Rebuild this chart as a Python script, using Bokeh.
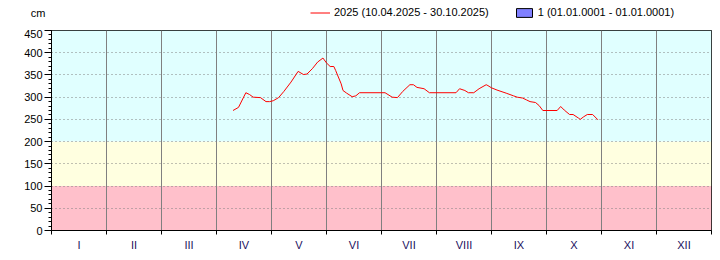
import datetime
import calendar
from bokeh.plotting import figure
from bokeh.layouts import column
from bokeh.models import (Range1d, FixedTicker, BoxAnnotation, Legend, LegendItem)
from bokeh.embed import file_html
from bokeh.resources import INLINE

# ---------------- data ----------------
dates = ["2025-04-10", "2025-04-13", "2025-04-17", "2025-04-19", "2025-04-21", "2025-04-25",
         "2025-04-28", "2025-04-30", "2025-05-02", "2025-05-05", "2025-05-08", "2025-05-12",
         "2025-05-16", "2025-05-19", "2025-05-21", "2025-05-24", "2025-05-27", "2025-05-30",
         "2025-06-01", "2025-06-03", "2025-06-05", "2025-06-06", "2025-06-09", "2025-06-10",
         "2025-06-12", "2025-06-15", "2025-06-17", "2025-06-19", "2025-07-03", "2025-07-07",
         "2025-07-10", "2025-07-13", "2025-07-17", "2025-07-19", "2025-07-21", "2025-07-25",
         "2025-07-28", "2025-08-12", "2025-08-14", "2025-08-17", "2025-08-19", "2025-08-22",
         "2025-08-25", "2025-08-29", "2025-08-30", "2025-09-01", "2025-09-04", "2025-09-09",
         "2025-09-13", "2025-09-15", "2025-09-18", "2025-09-20", "2025-09-22", "2025-09-25",
         "2025-09-27", "2025-09-29", "2025-10-07", "2025-10-09", "2025-10-11", "2025-10-14",
         "2025-10-16", "2025-10-19", "2025-10-20", "2025-10-22", "2025-10-24", "2025-10-27",
         "2025-10-30"]
levels = [270, 277, 310, 306, 300, 299,
          290, 290, 292, 299, 313, 334,
          358, 351, 352, 364, 379, 388,
          377, 369, 369, 360, 330, 315,
          309, 301, 303, 310, 310, 300,
          299, 313, 328, 328, 322, 319,
          310, 310, 319, 315, 310, 310,
          319, 328, 326, 321, 316, 309,
          303, 300, 298, 294, 290, 288,
          281, 270, 270, 279, 271, 261,
          261, 253, 250, 256, 261, 261,
          249]

month_labels = ["I", "II", "III", "IV", "V", "VI", "VII", "VIII", "IX", "X", "XI", "XII"]
y_ticks = list(range(0, 451, 50))
y_minor_ticks = list(range(0, 451, 10))
grid_levels = list(range(50, 401, 50))
band_bottoms = [0, 100, 200]
band_tops = [100, 200, 450]
band_colors = ["#FFC0CB", "#FFFFE0", "#E0FFFF"]
series_label = "2025 (10.04.2025 - 30.10.2025)"
ref_label = "1 (01.01.0001 - 01.01.0001)"
unit_label = "cm"


def month_pos(s):
    d = datetime.date.fromisoformat(s)
    nd = calendar.monthrange(d.year, d.month)[1]
    return d.month - 1 + (d.day - 1) / nd


xs = [month_pos(s) for s in dates]

FONT = "Liberation Sans"

# ---------------- header (legend + unit) ----------------
top = figure(width=720, height=29, output_backend="svg", toolbar_location=None,
             x_range=Range1d(0, 660), y_range=Range1d(0, 25),
             x_axis_type=None,
             min_border_left=51, min_border_right=9, min_border_top=0, min_border_bottom=4)
top.outline_line_color = None
top.grid.visible = False
top.background_fill_color = "white"
top.border_fill_color = "white"
# unit label drawn as the header's (tickless) y-axis title
top.yaxis.ticker = FixedTicker(ticks=[])
top.yaxis.axis_line_color = None
top.yaxis.major_tick_line_color = None
top.yaxis.minor_tick_line_color = None
top.yaxis.major_label_text_font_size = "0px"
top.yaxis.axis_label = unit_label
top.yaxis.axis_label_orientation = "horizontal"
top.yaxis.axis_label_text_font = FONT
top.yaxis.axis_label_text_font_size = "11px"
top.yaxis.axis_label_text_font_style = "normal"
top.yaxis.axis_label_text_color = "black"
top.yaxis.axis_label_standoff = 6

# legend sample renderers (one point each, kept out of view)
r1 = top.line([-100, -90], [-100, -100], line_color="red", line_width=1)
r2 = top.quad(left=[-100], right=[-90], top=[-100], bottom=[-110],
              fill_color="#8080FF", line_color="black")

legend = Legend(items=[LegendItem(label=series_label, renderers=[r1]),
                       LegendItem(label=ref_label, renderers=[r2])],
                location=(259, 7), orientation="horizontal",
                padding=0, margin=0, spacing=25,
                glyph_width=20, glyph_height=11, label_height=11,
                label_standoff=4, label_text_font=FONT, label_text_font_size="11px",
                label_text_color="black",
                background_fill_alpha=0, border_line_alpha=0)
top.add_layout(legend, "center")

# ---------------- main chart ----------------
p = figure(width=720, height=231, output_backend="svg", toolbar_location=None,
           x_range=Range1d(0, 12), y_range=Range1d(0, 450),
           min_border_left=51, min_border_right=9, min_border_top=1, min_border_bottom=30)
p.background_fill_color = "white"
p.border_fill_color = "white"
p.outline_line_color = "black"
p.outline_line_width = 1

for b, t, c in zip(band_bottoms, band_tops, band_colors):
    p.add_layout(BoxAnnotation(bottom=b, top=t, fill_color=c, fill_alpha=1.0,
                               line_alpha=0, level="image"))

p.xgrid.ticker = FixedTicker(ticks=list(range(1, 12)))
p.xgrid.grid_line_color = "#808080"
p.xgrid.grid_line_width = 1
p.ygrid.ticker = FixedTicker(ticks=grid_levels)
p.ygrid.grid_line_color = "#808080"
p.ygrid.grid_line_dash = "1 3"
p.ygrid.grid_line_width = 1

p.yaxis.ticker = FixedTicker(ticks=y_ticks, minor_ticks=y_minor_ticks)
p.yaxis.major_tick_out = 7
p.yaxis.major_tick_in = 0
p.yaxis.minor_tick_out = 3
p.yaxis.minor_tick_in = 0
p.yaxis.major_label_standoff = 2
p.yaxis.axis_line_color = "black"
p.yaxis.major_tick_line_color = "black"
p.yaxis.minor_tick_line_color = "black"
p.yaxis.major_label_text_font = FONT
p.yaxis.major_label_text_font_size = "11px"
p.yaxis.major_label_text_color = "black"

centers = [i + 0.5 for i in range(12)]
p.xaxis.ticker = FixedTicker(ticks=centers, minor_ticks=list(range(0, 13)))
p.xaxis.major_label_overrides = {c: lab for c, lab in zip(centers, month_labels)}
p.xaxis.major_tick_out = 0
p.xaxis.major_tick_in = 0
p.xaxis.minor_tick_out = 4
p.xaxis.minor_tick_in = 0
p.xaxis.major_label_standoff = 4
p.xaxis.axis_line_color = "black"
p.xaxis.minor_tick_line_color = "black"
p.xaxis.major_label_text_font = FONT
p.xaxis.major_label_text_font_size = "11px"
p.xaxis.major_label_text_color = "#1a1060"

p.line(xs, levels, line_color="red", line_width=1)

layout = column(top, p, spacing=0)
open("out.html", "w").write(file_html(layout, INLINE))
